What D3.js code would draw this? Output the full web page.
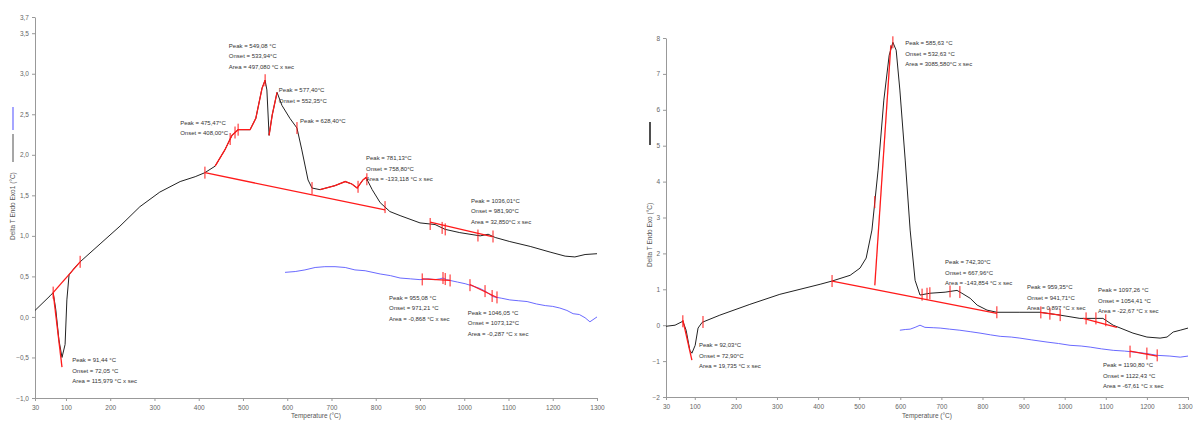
<!DOCTYPE html>
<html><head><meta charset="utf-8">
<script src="https://cdn.jsdelivr.net/npm/d3@7"></script>
<style>body{margin:0;background:#fff}svg{display:block}text{font-family:"Liberation Sans",Arial,sans-serif}</style>
</head><body><svg id="c" width="1193" height="422"></svg>
<script>
// ---------- DATA ----------
const xTicks = [30,100,200,300,400,500,600,700,800,900,1000,1100,1200,1300];
const leftYTicks = [3.7,3.5,3.0,2.5,2.0,1.5,1.0,0.5,0.0,-0.5,-1.0];
const rightYTicks = [8,7,6,5,4,3,2,1,0,-1,-2];

const leftBlackT = [30,64,71,77,84,91,98,102,107,120,132,177,222,267,312,358,392,414,437,459,475,489,516,529,543,550,554,559,566,577,588,606,622,633,647,656,674,708,731,746,758,771,778,792,810,832,855,900,934,957,990,1036,1054,1070,1103,1149,1194,1228,1250,1273,1300];
const leftBlackV = [0.08,0.26,0.30,0.09,-0.28,-0.50,-0.34,0.21,0.52,0.61,0.68,0.90,1.12,1.36,1.54,1.67,1.73,1.78,1.86,2.06,2.24,2.31,2.31,2.45,2.82,2.92,2.80,2.24,2.49,2.77,2.61,2.45,2.33,2.06,1.69,1.59,1.57,1.62,1.67,1.64,1.59,1.69,1.72,1.57,1.41,1.30,1.25,1.16,1.14,1.08,1.04,1.00,1.02,0.98,0.93,0.87,0.80,0.75,0.74,0.77,0.78];
const leftBlueT = [595,618,640,663,685,708,731,753,776,810,833,855,878,900,918,934,945,952,960,968,985,1002,1020,1036,1050,1065,1085,1103,1122,1142,1163,1183,1200,1216,1232,1246,1260,1273,1284,1300];
const leftBlueV = [0.55,0.56,0.58,0.61,0.62,0.62,0.61,0.58,0.57,0.53,0.51,0.48,0.47,0.46,0.47,0.46,0.47,0.48,0.46,0.45,0.43,0.41,0.38,0.35,0.31,0.25,0.23,0.21,0.20,0.19,0.16,0.14,0.13,0.11,0.08,0.04,0.03,-0.01,-0.06,0.00];

const rightBlackT = [30,52,71,79,88,93,101,108,118,161,234,307,356,405,434,478,502,517,531,546,560,573,582,590,599,612,624,636,648,672,709,738,750,770,787,811,835,891,940,989,1037,1074,1093,1118,1166,1200,1232,1249,1264,1281,1300];
const rightBlackV = [-0.03,0.0,0.11,-0.14,-0.70,-0.78,-0.56,-0.08,0.08,0.28,0.58,0.86,1.0,1.14,1.23,1.39,1.59,1.87,2.65,4.32,6.27,7.52,7.88,7.66,6.55,4.60,2.65,1.25,0.84,0.89,0.92,0.97,0.89,0.75,0.56,0.42,0.36,0.36,0.36,0.28,0.19,0.19,0.19,0.0,-0.22,-0.33,-0.36,-0.33,-0.19,-0.14,-0.08];
const rightBlueT = [599,612,624,636,648,660,680,697,720,745,770,794,820,843,870,891,920,957,985,1013,1040,1062,1090,1118,1145,1171,1200,1225,1256,1281,1300];
const rightBlueV = [-0.14,-0.12,-0.11,-0.06,0.0,-0.06,-0.07,-0.08,-0.11,-0.14,-0.18,-0.22,-0.27,-0.31,-0.33,-0.36,-0.41,-0.47,-0.51,-0.56,-0.58,-0.61,-0.66,-0.70,-0.72,-0.75,-0.79,-0.84,-0.86,-0.89,-0.86];

// red evaluation lines [T1, v1, T2, v2]
const leftRedLines = [[71,0.30,132,0.68],[71,0.30,91,-0.62],[414,1.78,821,1.32],[923,1.17,1063,0.99],[905,0.47,968,0.45],[1013,0.40,1074,0.24]];
const rightRedLines = [[71,0.14,93,-0.97],[434,1.23,835,0.33],[538,1.11,577,7.8],[1045,0.19,1127,-0.06],[1159,-0.72,1225,-0.86]];
// temperature ranges of the black curve drawn in red
const leftRedRanges = [[437,550],[559,577],[674,781]];
const rightRedRanges = [[940,989]];
// marker temperatures
const leftBlackMarks = [71,132,414,471,482,489,550,622,656,760,780,821,923,950,957,1031,1065];
const leftBlueMarks = [905,952,957,968,1013,1047,1063,1074];
const rightBlackMarks = [71,120,434,538,582,653,665,672,721,745,835,942,964,989,1052,1076,1100];
const rightBlueMarks = [1159,1200,1225];

// annotation texts and anchors (T, value)
const leftNoteTexts = [
  ["Peak = 549,08 °C","Onset = 533,94°C","Area = 497,080 °C x sec"],
  ["Peak = 577,40°C","Onset = 552,35°C"],
  ["Peak = 628,40°C"],
  ["Peak = 475,47°C","Onset = 408,00°C"],
  ["Peak = 781,13°C","Onset = 758,80°C","Area = -133,118 °C x sec"],
  ["Peak = 1036,01°C","Onset = 981,90°C","Area = 32,850°C x sec"],
  ["Peak = 955,08 °C","Onset = 971,21 °C","Area = -0,868 °C x sec"],
  ["Peak = 1046,05 °C","Onset = 1073,12°C","Area = -0,287 °C x sec"],
  ["Peak = 91,44 °C","Onset = 72,05 °C","Area = 115,979 °C x sec"]
];
const leftNoteT = [468,581,629,358,778,1015,830,1008,114];
const leftNoteV = [3.32,2.77,2.39,2.37,1.93,1.41,0.21,0.03,-0.56];
const rightNoteTexts = [
  ["Peak = 585,63 °C","Onset = 532,63 °C","Area = 3085,580°C x sec"],
  ["Peak = 742,30°C","Onset = 667,96°C","Area = -143,854 °C x sec"],
  ["Peak = 959,35°C","Onset = 941,71°C","Area = 0,897 °C x sec"],
  ["Peak = 1097,26 °C","Onset = 1054,41 °C","Area = -22,67 °C x sec"],
  ["Peak = 1190,80 °C","Onset = 1122,43 °C","Area = -67,61 °C x sec"],
  ["Peak = 92,03°C","Onset = 72,90°C","Area = 19,735 °C x sec"]
];
const rightNoteT = [612,709,908,1081,1093,110];
const rightNoteV = [7.8,1.70,1.0,0.92,-1.17,-0.61];

const xTitle = "Temperature (°C)";
const leftYTitle = "Delta T Endo Exo1 (°C)";
const rightYTitle = "Delta T Endo Exo (°C)";

// ---------- DRAW ----------
const svg = d3.select("#c");
const RED = "#ff1a1a", BLUE = "#6a6aff", BLACK = "#222";

function interp(Ts, Vs, t){
  for(let i=1;i<Ts.length;i++){ if(t<=Ts[i]){ const f=(t-Ts[i-1])/(Ts[i]-Ts[i-1]); return Vs[i-1]+f*(Vs[i]-Vs[i-1]); } }
  return Vs[Vs.length-1];
}

function panel(cfg){
  const g = svg.append("g");
  const x = d3.scaleLinear().domain([30,1300]).range(cfg.xr);
  const y = d3.scaleLinear().domain(cfg.yd).range(cfg.yr);
  const ax = g.append("g").attr("transform",`translate(0,${cfg.yr[0]})`)
    .call(d3.axisBottom(x).tickValues(xTicks).tickFormat(d3.format("d")).tickSizeInner(3).tickSizeOuter(0).tickPadding(4));
  const ay = g.append("g").attr("transform",`translate(${cfg.xr[0]},0)`)
    .call(d3.axisLeft(y).tickValues(cfg.yTicks).tickFormat(cfg.fmt).tickSizeInner(3).tickSizeOuter(0).tickPadding(3));
  [ax,ay].forEach(a=>{
    a.select(".domain").attr("stroke","#999");
    a.selectAll(".tick line").attr("stroke","#999");
    a.selectAll(".tick text").attr("fill","#666").style("font-size","6.5px");
  });
  if(cfg.lastEnd) ax.selectAll(".tick text").filter(d=>d===1300).attr("text-anchor","end").attr("dx","4");
  g.append("text").attr("x",(cfg.xr[0]+cfg.xr[1])/2).attr("y",418).attr("text-anchor","middle")
    .attr("fill","#555").style("font-size","6.5px").text(xTitle);
  // y title + legend
  const lx = cfg.legendX;
  g.append("text").attr("transform",`translate(${lx+2},${cfg.titleEnd}) rotate(-90)`).attr("text-anchor","start")
    .attr("fill","#555").style("font-size","6.5px").text(cfg.yTitle);
  g.append("line").attr("x1",lx).attr("x2",lx).attr("y1",cfg.blackSeg[0]).attr("y2",cfg.blackSeg[1])
    .attr("stroke",BLACK).attr("stroke-width",cfg.blackSegW);
  if(cfg.blueSeg) g.append("line").attr("x1",lx).attr("x2",lx).attr("y1",cfg.blueSeg[0]).attr("y2",cfg.blueSeg[1])
    .attr("stroke",BLUE).attr("stroke-width",1.2);

  const line = d3.line().x(d=>x(d[0])).y(d=>y(d[1]));
  const black = cfg.bT.map((t,i)=>[t,cfg.bV[i]]);
  const blue = cfg.uT.map((t,i)=>[t,cfg.uV[i]]);
  g.append("path").attr("d",line(blue)).attr("fill","none").attr("stroke",BLUE).attr("stroke-width",1);
  g.append("path").attr("d",line(black)).attr("fill","none").attr("stroke",BLACK).attr("stroke-width",1);
  cfg.ranges.forEach(r=>{
    const pts = [[r[0],interp(cfg.bT,cfg.bV,r[0])]].concat(black.filter(d=>d[0]>r[0]&&d[0]<r[1])).concat([[r[1],interp(cfg.bT,cfg.bV,r[1])]]);
    g.append("path").attr("d",line(pts)).attr("fill","none").attr("stroke",RED).attr("stroke-width",1.3);
  });
  cfg.redLines.forEach(l=>{
    g.append("line").attr("x1",x(l[0])).attr("y1",y(l[1])).attr("x2",x(l[2])).attr("y2",y(l[3]))
      .attr("stroke",RED).attr("stroke-width",1.3);
  });
  const mark = (t,v)=> g.append("line").attr("x1",x(t)).attr("x2",x(t)).attr("y1",y(v)-6).attr("y2",y(v)+6)
      .attr("stroke",RED).attr("stroke-width",1);
  cfg.bMarks.forEach(t=>mark(t,interp(cfg.bT,cfg.bV,t)));
  cfg.uMarks.forEach(t=>mark(t,interp(cfg.uT,cfg.uV,t)));
  cfg.notes.forEach((lines,i)=>{
    const tx = g.append("text").attr("x",x(cfg.nT[i])).attr("y",y(cfg.nV[i])).attr("fill","#333").style("font-size","6px");
    lines.forEach((s,j)=>tx.append("tspan").attr("x",x(cfg.nT[i])).attr("dy",j?10.5:0).text(s));
  });
}

const commaFmt = d=>d3.format(".1f")(d).replace(".",",");
panel({xr:[35,597], yd:[-1,3.7], yr:[398,17], yTicks:leftYTicks, fmt:commaFmt, yTitle:leftYTitle,
  legendX:13, titleEnd:240, blackSeg:[162,134], blackSegW:0.8, blueSeg:[130,107], lastEnd:false,
  bT:leftBlackT,bV:leftBlackV,uT:leftBlueT,uV:leftBlueV, ranges:leftRedRanges, redLines:leftRedLines,
  bMarks:leftBlackMarks,uMarks:leftBlueMarks, notes:leftNoteTexts,nT:leftNoteT,nV:leftNoteV});
panel({xr:[666,1188], yd:[-2,8], yr:[397,38], yTicks:rightYTicks, fmt:d3.format("d"), yTitle:rightYTitle,
  legendX:650, titleEnd:267, blackSeg:[145,122], blackSegW:1.6, blueSeg:null, lastEnd:true,
  bT:rightBlackT,bV:rightBlackV,uT:rightBlueT,uV:rightBlueV, ranges:rightRedRanges, redLines:rightRedLines,
  bMarks:rightBlackMarks,uMarks:rightBlueMarks, notes:rightNoteTexts,nT:rightNoteT,nV:rightNoteV});
</script></body></html>
